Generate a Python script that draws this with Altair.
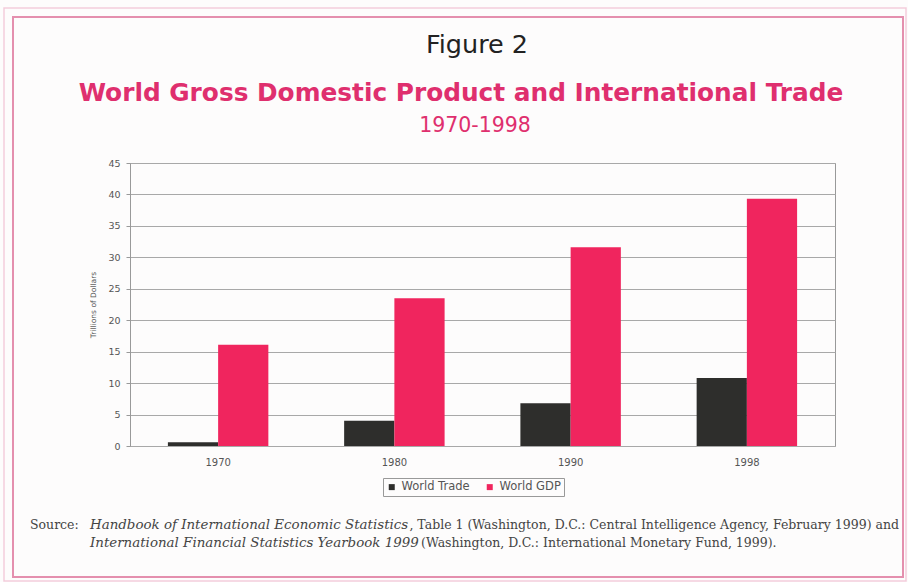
import altair as alt
import pandas as pd

years = ["1970", "1980", "1990", "1998"]
world_trade = [0.6, 4.0, 6.8, 10.8]
world_gdp = [16.1, 23.5, 31.6, 39.3]
series_names = ["World Trade", "World GDP"]
y_ticks = [0, 5, 10, 15, 20, 25, 30, 35, 40, 45]

rows = []
for i, yr in enumerate(years):
    rows.append({"year": yr, "series": series_names[0], "value": world_trade[i]})
    rows.append({"year": yr, "series": series_names[1], "value": world_gdp[i]})
df = pd.DataFrame(rows)

W, H = 705, 283
PL, PT = 130, 163
SANS = "DejaVu Sans"
SERIF = "DejaVu Serif"

bars = alt.Chart(df).mark_bar().encode(
    x=alt.X("year:N", sort=years,
            scale=alt.Scale(paddingInner=0.43, paddingOuter=0.215),
            axis=alt.Axis(title=None, labelAngle=0, labelFontSize=10, labelColor="#555555",
                          domain=False, ticks=False, labelPadding=11, labelFont=SANS)),
    xOffset=alt.XOffset("series:N", sort=series_names),
    y=alt.Y("value:Q", scale=alt.Scale(domain=[0, 45], nice=False),
            axis=alt.Axis(title="Trillions of Dollars", values=y_ticks, labelFontSize=9.5,
                          labelColor="#555555", titleFontSize=7.5, titleFontWeight="normal",
                          titleColor="#555555", titlePadding=10, labelPadding=6,
                          gridColor="#a8a8a8", gridWidth=1, domainColor="#999999",
                          tickColor="#999999", tickSize=4, labelFont=SANS, titleFont=SANS)),
    color=alt.Color("series:N", sort=series_names,
                    scale=alt.Scale(domain=series_names, range=["#2e2e2c", "#f0255e"]),
                    legend=alt.Legend(title=None, orient="none", direction="horizontal",
                                      legendX=253, legendY=315, labelFontSize=11.5,
                                      labelFont=SANS, symbolType="square", symbolSize=36,
                                      strokeColor="#999999", padding=3, columnPadding=14,
                                      labelColor="#555555", symbolStrokeWidth=0,
                                      labelOffset=4)),
)

def txt(text, x, y, size, color="#222222", weight="normal", font=SANS, style="normal", align="center"):
    return alt.Chart(pd.DataFrame({"t": [text]})).mark_text(
        fontSize=size, color=color, fontWeight=weight, font=font, fontStyle=style,
        align=align, baseline="middle").encode(
        text="t:N", x=alt.value(x - PL), y=alt.value(y - PT))

outer = alt.Chart(pd.DataFrame({"a": [0]})).mark_rect(
    fill=None, stroke="#f4cddb", strokeWidth=1.5).encode(
    x=alt.value(4 - PL), x2=alt.value(906 - PL), y=alt.value(8 - PT), y2=alt.value(581 - PT))
border = alt.Chart(pd.DataFrame({"a": [0]})).mark_rect(
    fill=None, stroke="#e48fae", strokeWidth=2).encode(
    x=alt.value(13 - PL), x2=alt.value(903 - PL), y=alt.value(17 - PT), y2=alt.value(577 - PT))

heading = [
    txt("Figure 2", 477, 45, 25.5, "#222222"),
    txt("World Gross Domestic Product and International Trade", 461, 94, 24.8, "#df2f6e", "bold"),
    txt("1970-1998", 475, 126, 20.5, "#df2f6e"),
]

src = "#444444"
source = [
    txt("Source:", 30, 525, 12.5, src, font=SERIF, align="left"),
    txt("Handbook of International Economic Statistics", 90, 525, 13.4, src, font=SERIF, style="italic", align="left"),
    txt(", Table 1 (Washington, D.C.: Central Intelligence Agency, February 1999) and", 899, 525, 12.5, src, font=SERIF, align="right"),
    txt("International Financial Statistics Yearbook 1999", 90, 543, 13.4, src, font=SERIF, style="italic", align="left"),
    txt("(Washington, D.C.: International Monetary Fund, 1999).", 421, 543, 12.5, src, font=SERIF, align="left"),
]

chart = alt.layer(outer, border, bars, *heading, *source).properties(
    width=W, height=H,
    autosize=alt.AutoSizeParams(type="none"),
    padding={"left": PL, "top": PT, "right": 908 - PL - W, "bottom": 582 - PT - H},
    background="#fdfcfc",
).configure_view(stroke="#999999", strokeWidth=1)

chart.save("out.html", embed_options={"renderer": "svg", "actions": False})
